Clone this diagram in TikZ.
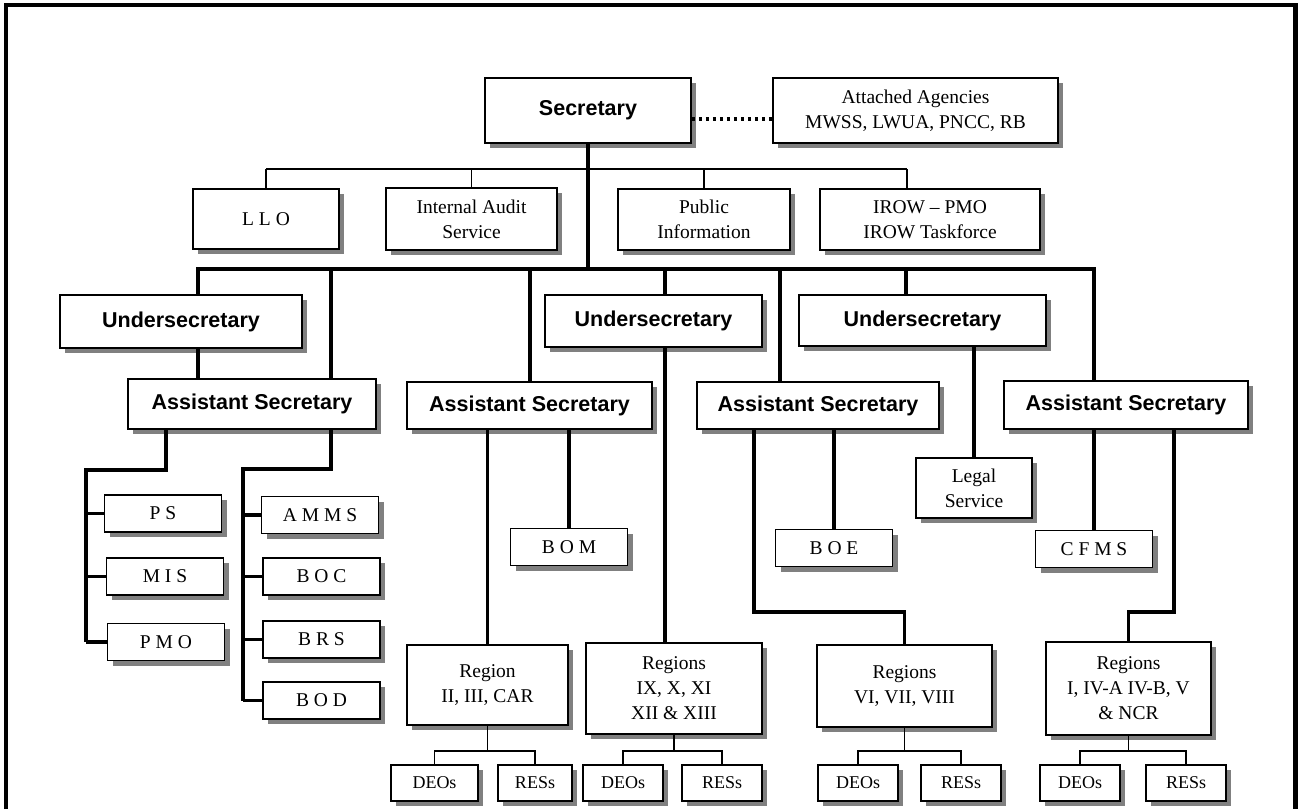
\documentclass[tikz,border=0pt]{standalone}
\usepackage{fontspec}
\setmainfont{Liberation Serif}
\newfontfamily\headfont{Liberation Sans}
\usetikzlibrary{shadows}

\begin{document}
\begin{tikzpicture}[x=1pt,y=-1pt,
    sz/.style 2 args={minimum width=#1,minimum height=#2},
    box/.style={draw,fill=white,line width=1.8pt,inner sep=0pt,align=center,
      general shadow={fill=cshade,shadow xshift=5pt,shadow yshift=-5pt}},
    headbox/.style={box,font=\headfont\bfseries\fontsize{21.5}{26}\selectfont},
    unitbox/.style={box,font=\fontsize{19.5}{25}\selectfont},
    smallbox/.style={box,font=\fontsize{18}{22}\selectfont},
    thinline/.style={line width=1.9pt},
    thickline/.style={line width=3.3pt}]
  \definecolor{cshade}{RGB}{128,128,128}
  \useasboundingbox (0,0) rectangle (1300,809);
  % outer frame, open at the bottom
  \draw[line width=4.8pt] (6,809) -- (6,5) -- (1295.5,5) -- (1295.5,809);

  % secretary and staff
  \node[headbox,sz={206}{65}] (sec) at (588,110.5) {Secretary};
  \node[unitbox,sz={285}{65}] (att) at (915.5,110.5) {Attached Agencies\\MWSS, LWUA, PNCC, RB};
  \draw[line width=3.5pt,dash pattern=on 3.5pt off 3.5pt]
    ([yshift=-8.5pt]sec.east) -- ([yshift=-8.5pt]att.west);
  \node[unitbox,sz={146}{60}] (llo) at (266,219) {L L O};
  \node[unitbox,sz={171}{62}] (ias) at (471.5,219) {Internal Audit\\Service};
  \node[unitbox,sz={172}{61}] (pubinfo) at (704,219.5) {Public\\Information};
  \node[unitbox,sz={220}{61}] (irow) at (930,219.5) {IROW – PMO\\IROW Taskforce};

  % undersecretaries and assistant secretaries
  \node[headbox,sz={242}{53}] (us1) at (181,321.5) {Undersecretary};
  \node[headbox,sz={217}{52}] (us2) at (653.5,321) {Undersecretary};
  \node[headbox,sz={247}{51}] (us3) at (922.5,320.5) {Undersecretary};
  \node[headbox,sz={248}{50}] (as1) at (252,404) {Assistant Secretary};
  \node[headbox,sz={245}{47}] (as2) at (529.5,405.5) {Assistant Secretary};
  \node[headbox,sz={242}{47}] (as3) at (818,405.5) {Assistant Secretary};
  \node[headbox,sz={244}{48}] (as4) at (1126,405) {Assistant Secretary};

  % services and bureaus
  \foreach \nm/\xx/\yy/\txt in {ps/163/513.5/P S, mis/165/576.5/M I S, pmo/166/642/P M O,
      amms/320/515/A M M S, boc/321.5/576.5/B O C, brs/321.5/639.5/B R S, bod/321.5/700.5/B O D,
      bom/569/547/B O M, boe/834/548/B O E, cfms/1094/549/C F M S}
    \node[unitbox,sz={117}{37}] (\nm) at (\xx,\yy) {\txt};
  \node[unitbox,sz={116}{60}] (legal) at (974,488) {Legal\\Service};

  % regional offices
  \node[unitbox,sz={161}{80}] (reg2) at (487.5,685) {Region\\II, III, CAR};
  \node[unitbox,sz={176}{91}] (regix) at (674,688.5) {Regions\\IX, X, XI\\XII \& XIII};
  \node[unitbox,sz={175}{82}] (reg6) at (904.5,686) {Regions\\VI, VII, VIII};
  \node[unitbox,sz={165}{93}] (reg1) at (1128.5,688.5) {Regions\\I, IV-A IV-B, V\\\& NCR};
  \foreach \nm/\xx/\ww/\txt in {deos1/434.5/87/DEOs, ress1/535/74/RESs, deos2/623/80/DEOs,
      ress2/722/80/RESs, deos3/858/80/DEOs, ress3/961/80/RESs, deos4/1080/80/DEOs, ress4/1186/80/RESs}
    \node[smallbox,sz={\ww}{36}] (\nm) at (\xx,783) {\txt};

  % staff line
  \coordinate (staffL) at (266,169);
  \coordinate (staffR) at (907,169);
  \draw[thinline] (staffL) -- (staffR);
  \foreach \nd in {llo,ias,pubinfo}
    \draw[thinline] (\nd.north |- staffL) -- (\nd.north);
  \draw[thinline] (staffR) -- (staffR |- irow.north);

  % main line
  \coordinate (busL) at (196.4,269);
  \coordinate (busR) at (1095.6,269);
  \draw[thickline] (sec.south) -- (sec.south |- busL);
  \draw[thickline] (busL) -- (busR);
  \foreach \nd/\xx in {us1/198,as1/331,as2/530,us2/665,as3/780,us3/906,as4/1094}{
    \coordinate (tap\nd) at (\xx,269);
    \draw[thickline] (tap\nd) -- (tap\nd |- \nd.north);
  }
  \draw[thickline] (tapus1 |- us1.south) -- (tapus1 |- as1.north);
  \draw[thickline] (tapus2 |- us2.south) -- (tapus2 |- regix.north);
  \draw[thickline] (legal.north |- us3.south) -- (legal.north);

  % first assistant secretary
  \coordinate (spineL) at (86,470);
  \coordinate (spineR) at (243,469);
  \draw[thickline] ([xshift=-86pt]as1.south) |- (spineL) -- (spineL |- pmo.west);
  \draw[thickline] (tapas1 |- as1.south) |- (spineR) -- (spineR |- bod.west);
  \foreach \nd in {ps,mis,pmo}
    \draw[thickline] (spineL |- \nd.west) -- (\nd.west);
  \foreach \nd in {amms,boc,brs,bod}
    \draw[thickline] (spineR |- \nd.west) -- (\nd.west);

  % the other assistant secretaries
  \draw[thickline] (reg2.north |- as2.south) -- (reg2.north);
  \draw[thickline] (bom.north |- as2.south) -- (bom.north);
  \coordinate (bend6) at (754,612);
  \draw[thickline] (bend6 |- as3.south) -- (bend6) -| (reg6.north);
  \draw[thickline] (boe.north |- as3.south) -- (boe.north);
  \coordinate (bend1) at (1174,612);
  \draw[thickline] (bend1 |- as4.south) -- (bend1) -| (reg1.north);
  \draw[thickline] (cfms.north |- as4.south) -- (cfms.north);

  % district and regional equipment offices
  \coordinate (dobus) at (0,751);
  \foreach \rg/\dd/\rr in {reg2/deos1/ress1,regix/deos2/ress2,reg6/deos3/ress3,reg1/deos4/ress4}{
    \draw[thinline] (\rg.south) -- (\rg.south |- dobus);
    \draw[thinline] (\dd.north) |- (\rr.north |- dobus) -- (\rr.north);
  }
\end{tikzpicture}
\end{document}
